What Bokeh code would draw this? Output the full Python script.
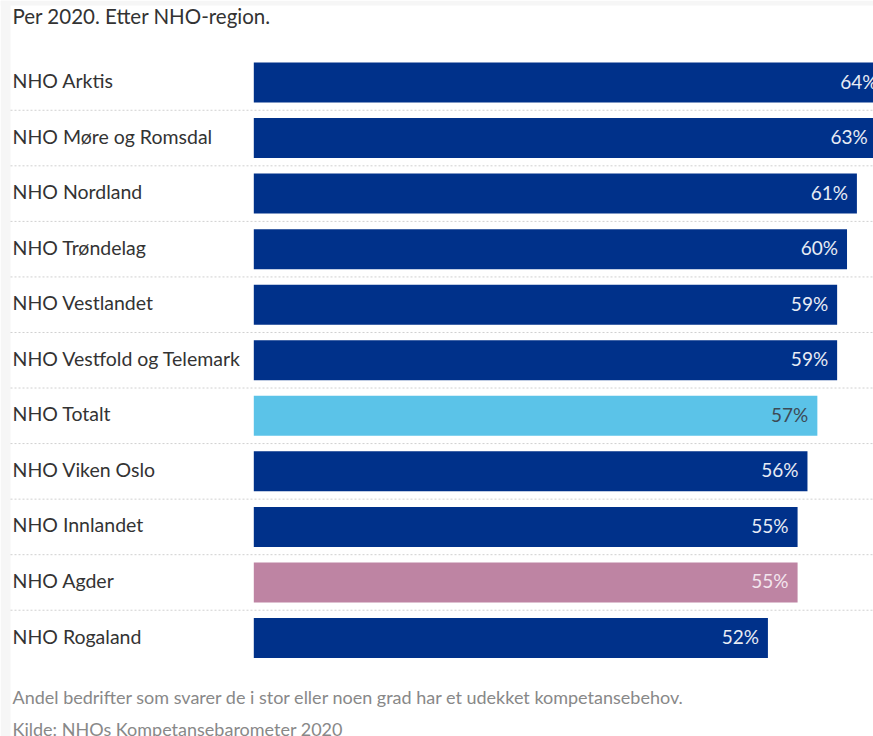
from bokeh.plotting import figure
from bokeh.models import Range1d, ColumnDataSource, LabelSet, Label, BoxAnnotation
from bokeh.core.properties import value
from bokeh.embed import file_html
from bokeh.resources import INLINE

# ---- data ----
regions = ["NHO Arktis", "NHO Møre og Romsdal", "NHO Nordland", "NHO Trøndelag",
           "NHO Vestlandet", "NHO Vestfold og Telemark", "NHO Totalt",
           "NHO Viken Oslo", "NHO Innlandet", "NHO Agder", "NHO Rogaland"]
values = [64, 63, 61, 60, 59, 59, 57, 56, 55, 55, 52]
highlight = ["", "", "", "", "", "", "total", "", "", "agder", ""]

title_text = "Per 2020. Etter NHO-region."
note_text = "Andel bedrifter som svarer de i stor eller noen grad har et udekket kompetansebehov."
source_text = "Kilde: NHOs Kompetansebarometer 2020"

# ---- styling ----
DARK = "#00318A"
LIGHT = "#5BC3E8"
PINK = "#BE84A3"
color_map = {"": DARK, "total": LIGHT, "agder": PINK}
label_color_map = {"": "#E8ECF5", "total": "#3D4A55", "agder": "#F3E6EE"}

W, H = 873, 736
PX_PER_PCT = 9.887
ZERO_X = 253.3
ROW0 = 82.0
ROW_H = 55.55
FONT = "Lato"
TEXT_X = 12

x_start = -ZERO_X / PX_PER_PCT
x_end = (W - ZERO_X) / PX_PER_PCT
y_bottom = (H - ROW0) / ROW_H
y_top = -ROW0 / ROW_H


def px_to_x(px):
    return (px - ZERO_X) / PX_PER_PCT


def py_to_y(py):
    return (py - ROW0) / ROW_H


ys = list(range(len(regions)))
src = ColumnDataSource(dict(
    y=ys,
    region=regions,
    val=values,
    lbl=[f"{v}%" for v in values],
    color=[color_map[h] for h in highlight],
    lcolor=[label_color_map[h] for h in highlight],
))

p = figure(width=W, height=H, x_range=Range1d(x_start, x_end),
           y_range=Range1d(y_bottom, y_top),
           output_backend="svg", toolbar_location=None,
           min_border=0, min_border_left=0, min_border_right=0,
           min_border_top=0, min_border_bottom=0)
p.xaxis.visible = False
p.yaxis.visible = False
p.grid.visible = False
p.outline_line_color = None
p.background_fill_color = "white"
p.border_fill_color = "white"

# page-edge light grey frame
GREY = "#F6F6F6"
p.add_layout(BoxAnnotation(left=x_start, right=px_to_x(10), top=y_top, bottom=y_bottom,
                           fill_color=GREY, fill_alpha=1, line_color=None, level="underlay"))
p.add_layout(BoxAnnotation(left=x_start, right=x_end, top=y_top, bottom=py_to_y(5),
                           fill_color=GREY, fill_alpha=1, line_color=None, level="underlay"))

# dotted separators between rows
sep_y = [y + 0.5 for y in ys[:-1]]
p.segment(x0=[px_to_x(10)] * len(sep_y), x1=[x_end] * len(sep_y), y0=sep_y, y1=sep_y,
          line_color="#D0D0D0", line_width=1, line_dash="2 2")

p.hbar(y="y", left=0, right="val", height=0.72, source=src,
       fill_color="color", line_color=None)

p.add_layout(LabelSet(x="val", y="y", text="lbl", source=src,
                      x_offset=-9, y_offset=1.5, text_align="right", text_baseline="middle",
                      text_font=value(FONT), text_font_size="19px",
                      text_color="lcolor"))

p.add_layout(LabelSet(x=TEXT_X, x_units="screen", y="y", text="region", source=src,
                      y_offset=2, text_align="left", text_baseline="middle",
                      text_font=value(FONT), text_font_size="19.5px",
                      text_color="#333333"))

p.add_layout(Label(x=TEXT_X, y=H - 15, x_units="screen", y_units="screen",
                   text=title_text, text_baseline="middle",
                   text_font=FONT, text_font_size="20.5px", text_color="#333333"))
p.add_layout(Label(x=TEXT_X, y=H - 696, x_units="screen", y_units="screen",
                   text=note_text, text_baseline="middle",
                   text_font=FONT, text_font_size="18px", text_color="#888888"))
p.add_layout(Label(x=TEXT_X, y=H - 728, x_units="screen", y_units="screen",
                   text=source_text, text_baseline="middle",
                   text_font=FONT, text_font_size="18px", text_color="#888888"))

open("out.html", "w").write(file_html(p, INLINE))
